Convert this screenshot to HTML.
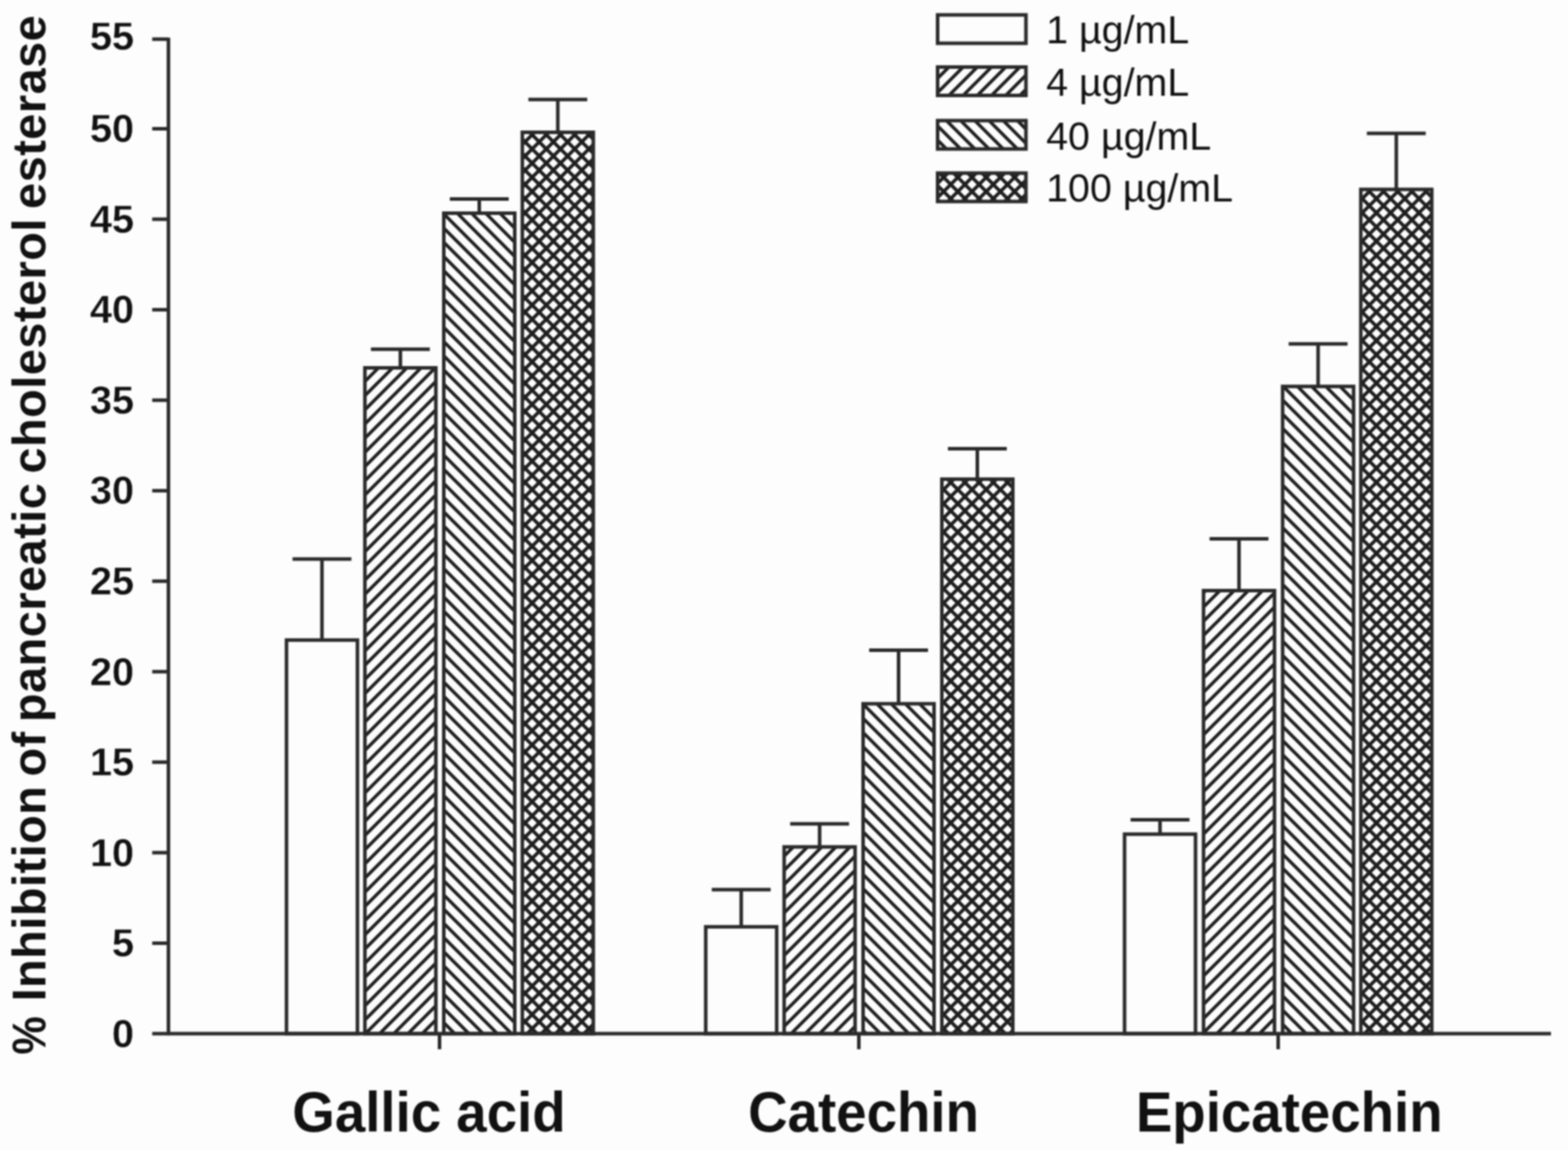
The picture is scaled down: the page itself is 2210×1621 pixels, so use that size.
<!DOCTYPE html>
<html lang="en"><head><meta charset="utf-8"><title>Inhibition of pancreatic cholesterol esterase</title>
<style>
html,body{margin:0;padding:0;background:#fdfdfd;}
body{width:2210px;height:1621px;overflow:hidden;}
svg{display:block;filter:blur(1px);}
text{font-family:"Liberation Sans",Arial,Helvetica,sans-serif;fill:#111;}
.b{font-weight:bold;}
.tk{stroke:#fdfdfd;stroke-width:0.4px;}
.yl{stroke:none;}
.ct{stroke:none;}
.ln{stroke:#2a2a2a;stroke-width:5.0;fill:none;stroke-linecap:butt;}
</style></head><body>
<svg width="2210" height="1621" viewBox="0 0 2210 1621">
<defs>
<pattern id="p1" patternUnits="userSpaceOnUse" width="20" height="20" x="14" y="18"><rect width="20" height="20" fill="#fdfdfd"/><path d="M-10,10 L10,-10 M-10,30 L30,-10 M10,30 L30,10" stroke="#1e1e1e" stroke-width="4.7" fill="none"/></pattern>
<pattern id="p2" patternUnits="userSpaceOnUse" width="20" height="20" x="4" y="0"><rect width="20" height="20" fill="#fdfdfd"/><path d="M-10,10 L10,30 M-10,-10 L30,30 M10,-10 L30,10" stroke="#1e1e1e" stroke-width="4.7" fill="none"/></pattern>
<pattern id="p3" patternUnits="userSpaceOnUse" width="20" height="20" x="0" y="0"><rect width="20" height="20" fill="#fdfdfd"/><path d="M-10,10 L10,-10 M-10,30 L30,-10 M10,30 L30,10 M-10,10 L10,30 M-10,-10 L30,30 M10,-10 L30,10" stroke="#1e1e1e" stroke-width="4.8" fill="none"/></pattern>
</defs>
<rect width="2210" height="1621" fill="#fdfdfd"/>
<rect class="ln" x="403.8" y="902.2" width="100.0" height="554.8" style="fill:#fdfdfd"/>
<path class="ln" d="M453.8,902.2 V788.0 M412.3,788.0 H495.3"/>
<rect class="ln" x="514.3" y="518.5" width="100.0" height="938.5" style="fill:url(#p1)"/>
<path class="ln" d="M564.3,518.5 V492.2 M522.8,492.2 H605.8"/>
<rect class="ln" x="625.5" y="300.5" width="100.0" height="1156.5" style="fill:url(#p2)"/>
<path class="ln" d="M675.5,300.5 V280.5 M634.0,280.5 H717.0"/>
<rect class="ln" x="736.2" y="186.5" width="100.0" height="1270.5" style="fill:url(#p3)"/>
<path class="ln" d="M786.2,186.5 V140.3 M744.7,140.3 H827.7"/>
<rect class="ln" x="994.7" y="1306.4" width="100.0" height="150.6" style="fill:#fdfdfd"/>
<path class="ln" d="M1044.7,1306.4 V1254.0 M1003.2,1254.0 H1086.2"/>
<rect class="ln" x="1105.2" y="1193.8" width="100.0" height="263.2" style="fill:url(#p1)"/>
<path class="ln" d="M1155.2,1193.8 V1161.3 M1113.7,1161.3 H1196.7"/>
<rect class="ln" x="1216.5" y="992.0" width="100.0" height="465.0" style="fill:url(#p2)"/>
<path class="ln" d="M1266.5,992.0 V916.6 M1225.0,916.6 H1308.0"/>
<rect class="ln" x="1327.5" y="675.4" width="100.0" height="781.6" style="fill:url(#p3)"/>
<path class="ln" d="M1377.5,675.4 V632.6 M1336.0,632.6 H1419.0"/>
<rect class="ln" x="1585.0" y="1175.8" width="100.0" height="281.2" style="fill:#fdfdfd"/>
<path class="ln" d="M1635.0,1175.8 V1155.6 M1593.5,1155.6 H1676.5"/>
<rect class="ln" x="1696.3" y="832.5" width="100.0" height="624.5" style="fill:url(#p1)"/>
<path class="ln" d="M1746.3,832.5 V759.4 M1704.8,759.4 H1787.8"/>
<rect class="ln" x="1807.8" y="544.7" width="100.0" height="912.3" style="fill:url(#p2)"/>
<path class="ln" d="M1857.8,544.7 V484.7 M1816.3,484.7 H1899.3"/>
<rect class="ln" x="1918.0" y="267.0" width="100.0" height="1190.0" style="fill:url(#p3)"/>
<path class="ln" d="M1968.0,267.0 V187.9 M1926.5,187.9 H2009.5"/>
<path class="ln" d="M237.4,53.0 V1459.3"/>
<path class="ln" d="M214.5,1457.0 H2186"/>
<text class="b tk" x="189" y="1475.7" font-size="56" text-anchor="end">0</text>
<path class="ln" d="M214.5,1329.5 H237"/>
<text class="b tk" x="189" y="1348.2" font-size="56" text-anchor="end">5</text>
<path class="ln" d="M214.5,1201.9 H237"/>
<text class="b tk" x="189" y="1220.6" font-size="56" text-anchor="end">10</text>
<path class="ln" d="M214.5,1074.3 H237"/>
<text class="b tk" x="189" y="1093.0" font-size="56" text-anchor="end">15</text>
<path class="ln" d="M214.5,946.8 H237"/>
<text class="b tk" x="189" y="965.5" font-size="56" text-anchor="end">20</text>
<path class="ln" d="M214.5,819.2 H237"/>
<text class="b tk" x="189" y="838.0" font-size="56" text-anchor="end">25</text>
<path class="ln" d="M214.5,691.7 H237"/>
<text class="b tk" x="189" y="710.4" font-size="56" text-anchor="end">30</text>
<path class="ln" d="M214.5,564.1 H237"/>
<text class="b tk" x="189" y="582.9" font-size="56" text-anchor="end">35</text>
<path class="ln" d="M214.5,436.6 H237"/>
<text class="b tk" x="189" y="455.3" font-size="56" text-anchor="end">40</text>
<path class="ln" d="M214.5,309.0 H237"/>
<text class="b tk" x="189" y="327.7" font-size="56" text-anchor="end">45</text>
<path class="ln" d="M214.5,181.5 H237"/>
<text class="b tk" x="189" y="200.2" font-size="56" text-anchor="end">50</text>
<path class="ln" d="M214.5,55.2 H237"/>
<text class="b tk" x="189" y="69.7" font-size="56" text-anchor="end">55</text>
<path class="ln" d="M619.5,1457.0 V1479"/>
<path class="ln" d="M1210.5,1457.0 V1479"/>
<path class="ln" d="M1801.5,1457.0 V1479"/>
<text class="b yl" transform="translate(63.7,1486.5) rotate(-90)" font-size="66" textLength="54" lengthAdjust="spacingAndGlyphs">%</text>
<text class="b yl" transform="translate(63.7,1411.5) rotate(-90)" font-size="66" textLength="1390" lengthAdjust="spacing" style="word-spacing:-6px">Inhibition of pancreatic cholesterol esterase</text>
<text class="b ct" x="412.0" y="1595" font-size="79" textLength="385.2" lengthAdjust="spacingAndGlyphs">Gallic acid</text>
<text class="b ct" x="1054.5" y="1595" font-size="79" textLength="325.2" lengthAdjust="spacingAndGlyphs">Catechin</text>
<text class="b ct" x="1601.0" y="1595" font-size="79" textLength="432.2" lengthAdjust="spacingAndGlyphs">Epicatechin</text>
<rect class="ln" x="1321.5" y="21.0" width="124.5" height="40" style="fill:#fdfdfd"/>
<text x="1474.5" y="61.4" font-size="55.5">1 µg/mL</text>
<rect class="ln" x="1321.5" y="94.5" width="124.5" height="40" style="fill:url(#p1)"/>
<text x="1474.5" y="135.4" font-size="55.5">4 µg/mL</text>
<rect class="ln" x="1321.5" y="170.0" width="124.5" height="40" style="fill:url(#p2)"/>
<text x="1474.5" y="210.8" font-size="55.5">40 µg/mL</text>
<rect class="ln" x="1321.5" y="244.0" width="124.5" height="40" style="fill:url(#p3)"/>
<text x="1474.5" y="283.6" font-size="55.5">100 µg/mL</text>
</svg>
</body></html>
